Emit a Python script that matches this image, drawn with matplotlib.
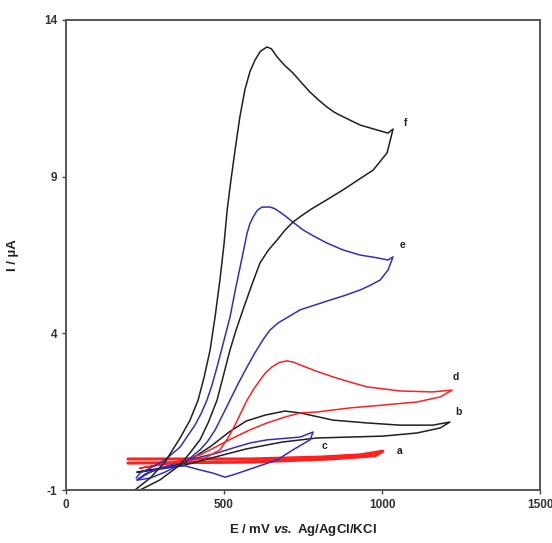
import matplotlib
matplotlib.use('Agg')
import matplotlib.pyplot as plt

plt.rcParams['font.family'] = ['Liberation Sans', 'DejaVu Sans']
plt.rcParams['font.weight'] = 'bold'
plt.rcParams['mathtext.fontset'] = 'custom'
plt.rcParams['mathtext.rm'] = 'Liberation Sans:bold'
plt.rcParams['mathtext.bf'] = 'Liberation Sans:bold'
plt.rcParams['mathtext.bfit'] = 'Liberation Sans:bold:italic'
plt.rcParams['axes.unicode_minus'] = False

# Cyclic voltammograms (E in mV, I in uA), forward branch then return branch
a_E = [196, 582, 804, 930, 1003, 978, 835, 582, 196]
a_I = [-0.01, -0.01, 0.05, 0.12, 0.24, 0.09, -0.01, -0.11, -0.14]

b_E = [225, 300, 377, 459, 516, 570, 630, 693, 741, 845, 953, 1057, 1161, 1215,
       1184, 1111, 1003, 899, 794, 684, 570, 459, 377, 300, 225]
b_I = [-0.43, -0.30, -0.14, 0.40, 0.85, 1.20, 1.39, 1.52, 1.46, 1.23, 1.14, 1.07, 1.07, 1.17,
       0.98, 0.82, 0.72, 0.69, 0.66, 0.53, 0.31, 0.02, -0.20, -0.33, -0.43]

c_E = [225, 266, 313, 377, 424, 465, 503, 528, 592, 668, 718, 772, 782,
       741, 636, 582, 528, 478, 424, 361, 297, 250, 225]
c_I = [-0.68, -0.43, -0.27, -0.23, -0.36, -0.46, -0.59, -0.52, -0.30, -0.04, 0.28, 0.60, 0.85,
       0.69, 0.60, 0.50, 0.34, 0.18, 0.05, -0.11, -0.30, -0.49, -0.68]

d_E = [234, 361, 440, 487, 510, 535, 555, 573, 594, 614, 632, 652, 675, 699, 720, 741, 790,
       845, 900, 953, 1057, 1161, 1222,
       1184, 1111, 1003, 899, 794, 741, 690, 636, 580, 528, 475, 424, 361, 234]
d_I = [-0.30, -0.11, 0.02, 0.28, 0.62, 1.07, 1.50, 1.87, 2.22, 2.51, 2.75, 2.93, 3.07, 3.12, 3.08, 2.99, 2.80,
       2.61, 2.44, 2.29, 2.16, 2.13, 2.19,
       1.97, 1.81, 1.71, 1.62, 1.49, 1.46, 1.32, 1.14, 0.91, 0.66, 0.38, 0.12, -0.07, -0.30]

e_E = [222, 234, 266, 313, 361, 408, 428, 446, 462, 478, 498, 519, 535, 551, 563, 573, 582, 592,
       605, 620, 646, 660, 677, 697, 718, 750, 788,
       826, 877, 930, 984, 1019, 1035,
       1019, 994, 960, 930, 880, 835, 741, 671, 645, 623, 598, 573, 545, 519, 495, 472, 448, 424,
       377, 313, 266, 228]
e_I = [-0.62, -0.46, -0.30, -0.04, 0.37, 1.07, 1.45, 1.87, 2.35, 2.93, 3.70, 4.52, 5.35, 6.12, 6.70, 7.20, 7.50, 7.71,
       7.92, 8.03, 8.03, 7.98, 7.87, 7.72, 7.55, 7.30, 7.08,
       6.88, 6.66, 6.50, 6.41, 6.34, 6.44,
       6.02, 5.70, 5.52, 5.38, 5.20, 5.06, 4.75, 4.33, 4.10, 3.79, 3.38, 2.93, 2.40, 1.87, 1.38, 0.92, 0.55, 0.28,
       -0.11, -0.43, -0.62, -0.68]

f_E = [218, 266, 313, 361, 392, 418, 437, 456, 472, 487, 500, 510, 522, 535, 550, 566, 582, 598,
       615, 636, 650, 668, 692, 718, 745, 772, 800, 826, 850, 877,
       930, 984, 1019, 1035,
       1016, 972, 925, 877, 825, 772, 745, 718, 692, 668, 640, 614, 588, 560, 538, 519, 498, 478,
       450, 424, 392, 361, 297, 234]
f_I = [-1.0, -0.62, -0.11, 0.66, 1.22, 1.87, 2.60, 3.47, 4.55, 5.70, 6.85, 7.94, 8.90, 9.85, 10.90, 11.77, 12.35, 12.72,
       13.00, 13.14, 13.08, 12.82, 12.55, 12.31, 12.00, 11.70, 11.44, 11.22, 11.05, 10.91,
       10.65, 10.49, 10.39, 10.52,
       9.76, 9.21, 8.90, 8.58, 8.26, 7.94, 7.75, 7.55, 7.28, 6.98, 6.65, 6.25, 5.55, 4.75, 4.10, 3.47, 2.65, 1.87,
       1.15, 0.60, 0.18, -0.20, -0.68, -1.0]

labels = ['a', 'b', 'c', 'd', 'e', 'f']
label_E = [1047, 1231, 810, 1225, 1057, 1070]
label_I = [0.24, 1.49, 0.40, 2.61, 6.82, 10.7]

fig = plt.figure(figsize=(5.52, 5.43), dpi=100)
ax = fig.add_axes([0.1196, 0.0976, 0.8587, 0.8656])

line_kw = dict(solid_joinstyle='round', solid_capstyle='round')
ax.plot(a_E, a_I, color='#ff2020', lw=2.2, **line_kw)
ax.plot(b_E, b_I, color='#202020', lw=1.1, **line_kw)
ax.plot(c_E, c_I, color='#3030c0', lw=1.1, **line_kw)
ax.plot(d_E, d_I, color='#ff2020', lw=1.1, **line_kw)
ax.plot(e_E, e_I, color='#3030c0', lw=1.1, **line_kw)
ax.plot(f_E, f_I, color='#202020', lw=1.1, **line_kw)

for lab, x, y in zip(labels, label_E, label_I):
    ax.text(x, y, lab, fontsize=7.5, fontweight='bold', color='#222222',
            ha='left', va='center')

ax.set_xlim(0, 1500)
ax.set_ylim(-1, 14)
ax.set_xticks([0, 500, 1000, 1500])
ax.set_yticks([-1, 4, 9, 14])
ax.set_xticklabels(['0', '500', '1000', '1500'], fontweight='bold')
ax.set_yticklabels(['-1', '4', '9', '14'], fontweight='bold')
ax.tick_params(direction='out', length=3, width=1, labelsize=8.5,
               labelcolor='#333333', color='#444444')
for spine in ax.spines.values():
    spine.set_color('#555555')
    spine.set_linewidth(1.4)

ax.set_xlabel(r'E / mV $\bfit{vs.}$' + '\u2009Ag/AgCl/KCl', fontsize=9.5, fontweight='bold',
              color='#222222', labelpad=8)
ax.set_ylabel('I / µA', fontsize=9.5, fontweight='bold', color='#222222', labelpad=18)

fig.savefig('out.png', dpi=100)
